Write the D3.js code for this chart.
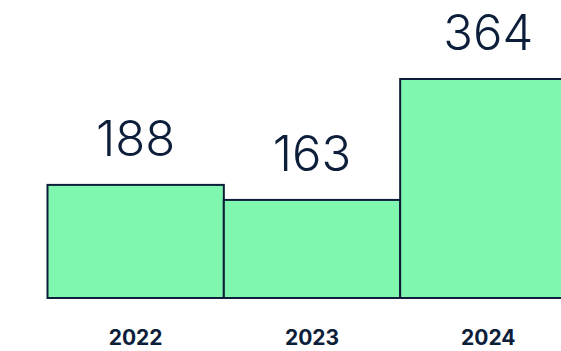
<!DOCTYPE html>
<html>
<head>
<meta charset="utf-8">
<script src="https://cdn.jsdelivr.net/npm/d3@7"></script>
<style>
  html, body { margin: 0; padding: 0; background: #ffffff; }
  svg { display: block; }
</style>
</head>
<body>
<svg id="chart" width="561" height="351"></svg>
<script>
// Yearly totals
const years = ["2022", "2023", "2024"];
const totals = [188, 163, 364];

const ink = "#0c1e3a";
const fill = "#80f7ae";

const svg = d3.select("#chart");

// Bars sit edge to edge; the last one runs off the right side
const x = d3.scaleBand()
  .domain(years)
  .range([47.5, 576.5])
  .paddingInner(0)
  .paddingOuter(0);

const y = d3.scaleLinear()
  .domain([0, 364])
  .range([298, 79]);

const data = years.map((yr, i) => ({ year: yr, value: totals[i] }));

svg.append("g")
  .selectAll("rect")
  .data(data)
  .join("rect")
  .attr("x", d => x(d.year))
  .attr("y", d => y(d.value))
  .attr("width", x.bandwidth())
  .attr("height", d => y(0) - y(d.value))
  .attr("fill", fill)
  .attr("stroke", ink)
  .attr("stroke-width", 2);

// Value labels above each bar
svg.append("g")
  .selectAll("text")
  .data(data)
  .join("text")
  .attr("x", d => x(d.year) + x.bandwidth() / 2)
  .attr("y", d => y(d.value) - 29)
  .attr("text-anchor", "middle")
  .attr("font-family", "Inter, 'Open Sans', sans-serif")
  .attr("font-weight", 300)
  .attr("font-size", 49)
  .attr("fill", ink)
  .text(d => d.value);

// Year labels under the baseline
svg.append("g")
  .selectAll("text")
  .data(data)
  .join("text")
  .attr("x", d => x(d.year) + x.bandwidth() / 2)
  .attr("y", 345)
  .attr("text-anchor", "middle")
  .attr("font-family", "Inter, 'Open Sans', sans-serif")
  .attr("font-weight", 700)
  .attr("font-size", 21)
  .attr("fill", ink)
  .text(d => d.year);
</script>
</body>
</html>
